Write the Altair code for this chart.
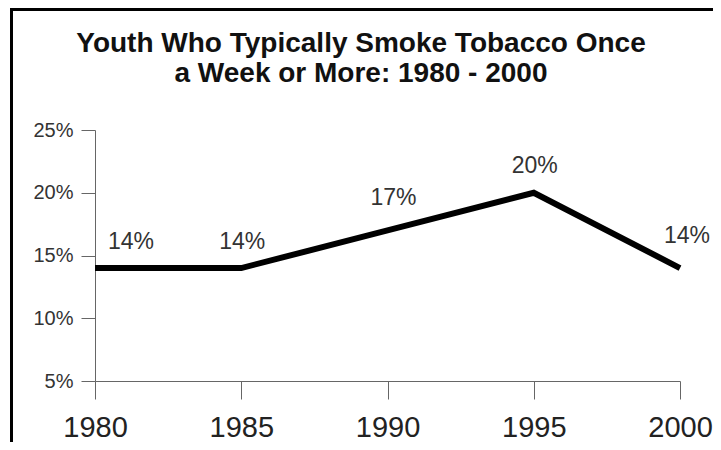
import altair as alt
import pandas as pd

years = [1980, 1985, 1990, 1995, 2000]
values = [14, 14, 17, 20, 14]
labels = ["14%", "14%", "17%", "20%", "14%"]
y_ticks = [5, 10, 15, 20, 25]
title_lines = ["Youth Who Typically Smoke Tobacco Once", "a Week or More: 1980 - 2000"]

# label pixel nudges (style only): (dx, dy) per year
label_nudge = {1980: (36, -19), 1985: (1, -19), 1990: (6, -25), 1995: (1, -20), 2000: (7, -25)}

df = pd.DataFrame({"year": years, "value": values, "label": labels})
title_df = pd.DataFrame({"t": ["title"]})

FONT = "Liberation Sans"

x_enc = alt.X("year:Q", scale=alt.Scale(domain=[1980, 2000], nice=False, zero=False),
              axis=alt.Axis(values=years, format="d", title=None, grid=False,
                            labelFontSize=29, labelFont=FONT, labelColor="#222",
                            tickSize=18, labelPadding=14, domainColor="#666",
                            tickColor="#666", labelFlush=False))
y_enc = alt.Y("value:Q", scale=alt.Scale(domain=[5, 25], nice=False, zero=False),
              axis=alt.Axis(values=y_ticks, labelExpr="datum.value + '%'", title=None,
                            grid=False, labelFontSize=20, labelFont=FONT, labelColor="#333",
                            tickSize=14, labelPadding=8, domainColor="#666",
                            tickColor="#666"))

base = alt.Chart(df)

line = base.mark_line(color="black", strokeWidth=6, strokeCap="butt").encode(x=x_enc, y=y_enc)

label_layers = []
for yr in years:
    dx, dy = label_nudge[yr]
    label_layers.append(
        base.transform_filter(f"datum.year == {yr}").mark_text(
            font=FONT, fontSize=23, color="#333", baseline="alphabetic", dx=dx, dy=dy
        ).encode(x="year:Q", y="value:Q", text="label:N")
    )

title1 = alt.Chart(title_df).mark_text(
    font=FONT, fontSize=28, fontWeight="bold", color="#111", baseline="middle",
    align="center", text=title_lines[0]
).encode(x=alt.value(266), y=alt.value(-86))
title2 = alt.Chart(title_df).mark_text(
    font=FONT, fontSize=28, fontWeight="bold", color="#111", baseline="middle",
    align="center", text=title_lines[1]
).encode(x=alt.value(266), y=alt.value(-56))

border_left = alt.Chart(title_df).mark_rule(color="black", strokeWidth=3).encode(
    x=alt.value(-83.5), y=alt.value(-125), y2=alt.value(320))
border_top = alt.Chart(title_df).mark_rule(color="black", strokeWidth=3).encode(
    y=alt.value(-120.5), x=alt.value(-85), x2=alt.value(700))

chart = alt.layer(border_left, border_top, title1, title2, line, *label_layers).properties(
    width=585, height=251,
    autosize=alt.AutoSizeParams(type="none"),
    padding={"left": 87, "top": 122, "right": 33, "bottom": 61},
).configure(background="white").configure_view(stroke=None)

chart.save("out.html", embed_options={"renderer": "svg", "actions": False})
